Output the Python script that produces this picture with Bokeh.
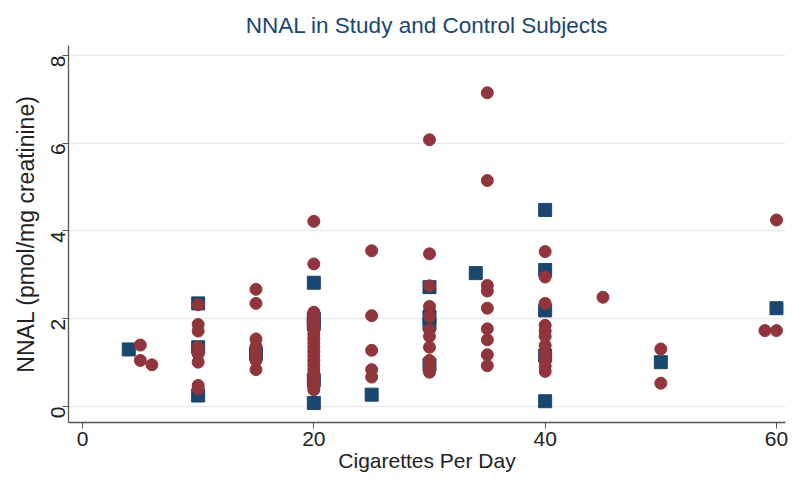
import math
from bokeh.plotting import figure
from bokeh.models import Range1d, FixedTicker
from bokeh.embed import file_html
from bokeh.resources import INLINE

# Circles (maroon)
circle_x = [5, 5, 6,
            10, 10, 10, 10, 10, 10, 10, 10,
            15, 15, 15, 15, 15, 15, 15,
            20, 20, 20, 20, 20, 20, 20, 20, 20, 20, 20, 20, 20, 20, 20, 20, 20, 20, 20, 20, 20,
            25, 25, 25, 25, 25,
            30, 30, 30, 30, 30, 30, 30, 30, 30, 30, 30, 30,
            35, 35, 35, 35, 35, 35, 35, 35, 35,
            40, 40, 40, 40, 40, 40, 40, 40, 40, 40, 40,
            45, 50, 50, 59, 60, 60]
circle_y = [1.40, 1.05, 0.95,
            2.32, 1.87, 1.72, 1.35, 1.20, 1.01, 0.48, 0.40,
            2.67, 2.35, 1.54, 1.38, 1.22, 1.05, 0.84,
            4.22, 3.25, 2.15, 2.05, 1.95, 1.85, 1.75, 1.65, 1.55, 1.45, 1.35, 1.25, 1.15, 1.05, 0.95, 0.85, 0.75, 0.65, 0.55, 0.45, 0.38,
            3.55, 2.07, 1.28, 0.84, 0.67,
            6.08, 3.48, 2.75, 2.28, 2.05, 1.75, 1.60, 1.35, 1.05, 0.95, 0.85, 0.78,
            7.15, 5.15, 2.76, 2.63, 2.24, 1.77, 1.52, 1.18, 0.93,
            3.53, 2.95, 2.35, 1.85, 1.72, 1.60, 1.39, 1.20, 1.05, 0.92, 0.80,
            2.49, 1.31, 0.53, 1.73, 4.25, 1.73]

# Squares (navy)
square_x = [4, 10, 10, 10, 15, 20, 20, 20, 20, 20, 25,
            30, 30, 30, 30, 34, 40, 40, 40, 40, 40, 50, 60]
square_y = [1.30, 2.35, 1.35, 0.25, 1.20, 2.82, 2.00, 1.88, 0.60, 0.08, 0.27,
            2.72, 2.05, 1.88, 0.95, 3.04, 4.48, 3.11, 2.19, 1.16, 0.12, 1.01, 2.24]

x_ticks = [0, 20, 40, 60]
y_ticks = [0, 2, 4, 6, 8]

title_text = "NNAL in Study and Control Subjects"
x_label = "Cigarettes Per Day"
y_label = "NNAL (pmol/mg creatinine)"

FONT = "Liberation Sans"
NAVY = "#1a476f"
MAROON = "#90353b"

p = figure(width=793, height=480, output_backend="svg", toolbar_location=None,
           x_range=Range1d(-1.21, 60.78), y_range=Range1d(-0.365, 8.228),
           min_border_left=68, min_border_right=8, min_border_top=45, min_border_bottom=58)

p.title.text = title_text
p.title.align = "center"
p.title.vertical_align = "top"
p.title.text_font = FONT
p.title.text_font_size = "22.5px"
p.title.text_font_style = "normal"
p.title.text_color = NAVY
p.title.offset = 0
p.title.standoff = 12

p.outline_line_color = None
p.background_fill_color = "white"
p.border_fill_color = "white"

p.xgrid.grid_line_color = None
p.ygrid.grid_line_color = "#ebebeb"
p.ygrid.grid_line_width = 1.5

p.xaxis.ticker = FixedTicker(ticks=x_ticks)
p.yaxis.ticker = FixedTicker(ticks=y_ticks)
p.xaxis.minor_tick_line_color = None
p.yaxis.minor_tick_line_color = None

for ax in (p.xaxis[0], p.yaxis[0]):
    ax.axis_line_color = "#555555"
    ax.axis_line_width = 1.3
    ax.major_tick_line_color = "#555555"
    ax.major_tick_in = 0
    ax.major_tick_out = 6
    ax.major_label_text_font = FONT
    ax.major_label_text_font_size = "21px"
    ax.major_label_text_color = "#222222"
    ax.axis_label_text_font = FONT
    ax.axis_label_text_font_style = "normal"
    ax.axis_label_text_color = "#222222"

p.xaxis.axis_label_text_font_size = "21px"
p.yaxis.axis_label_text_font_size = "23px"
p.xaxis.axis_label = x_label
p.yaxis.axis_label = y_label
p.xaxis.major_label_standoff = 3
p.xaxis.axis_label_standoff = 0
p.yaxis.major_label_orientation = math.pi / 2
p.yaxis.major_label_standoff = 4
p.yaxis.axis_label_standoff = 3

p.scatter(square_x, square_y, marker="square", size=13,
          fill_color=NAVY, line_color=NAVY)
p.scatter(circle_x, circle_y, marker="circle", size=12,
          fill_color=MAROON, line_color=MAROON)

open("out.html", "w").write(file_html(p, INLINE))
